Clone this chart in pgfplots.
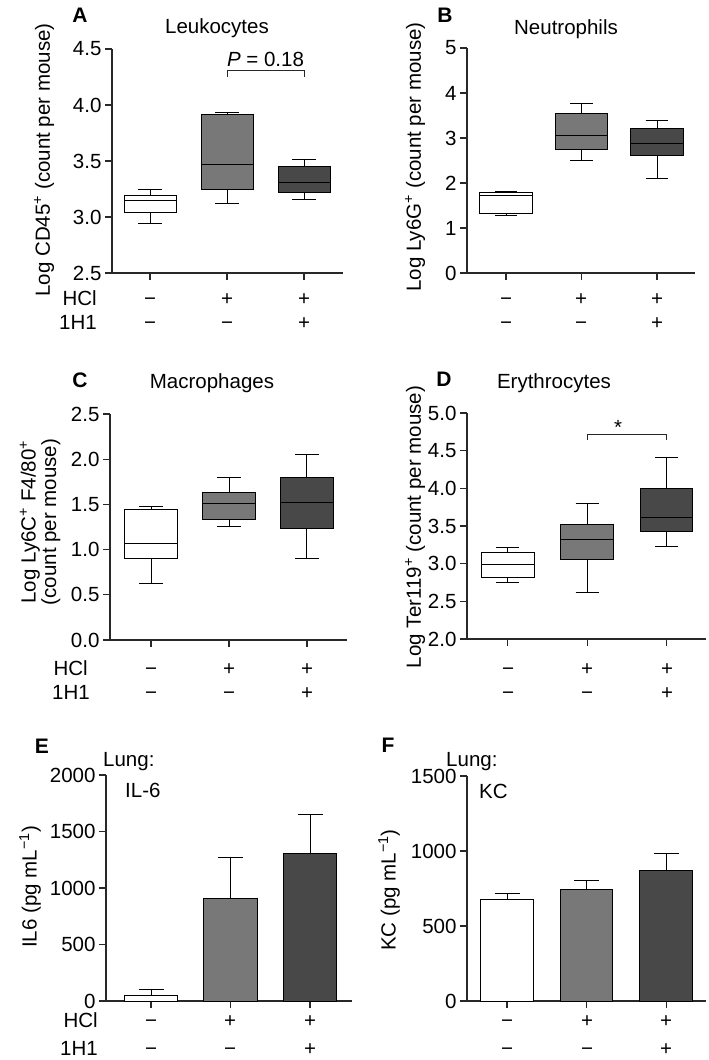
\documentclass[border=0pt]{standalone}
\usepackage{fontspec}
\setmainfont{Liberation Sans}
\usepackage{pgfplots}
\pgfplotsset{compat=1.18}
\usepgfplotslibrary{statistics}
\definecolor{midgray}{RGB}{120,120,120}
\definecolor{dkgray}{RGB}{72,72,72}
\definecolor{axgray}{RGB}{40,40,40}
\newcommand\fs{\fontsize{20.5}{24}\selectfont}
\newcommand\fsb{\fontsize{21}{24}\selectfont\bfseries}

\pgfplotsset{
 panel/.style={
  scale only axis, clip=false, anchor=south west,
  axis x line*=bottom, axis y line*=left,
  axis line style={-, line width=1.1pt, axgray},
  tick align=outside, major tick length=7pt,
  major tick style={line width=1.1pt, axgray},
  xtick={0,1,2}, xticklabels={},
  tick label style={font=\fs},
  /pgf/number format/assume math mode=true,
  boxplot/draw direction=y,
 },
 dec1/.style={yticklabel style={/pgf/number format/.cd, fixed, fixed zerofill, precision=1}},
 int/.style={yticklabel style={/pgf/number format/.cd, fixed, precision=0, 1000 sep={}}},
 bx/.style={draw=black, line width=1pt, solid, mark=none},
 eb/.style={error bars/.cd, y dir=plus, y explicit,
   error bar style={line width=1pt, black},
   error mark options={rotate=90, line width=1pt, mark size=12.5pt, black}},
}

\begin{document}
\begin{tikzpicture}
\useasboundingbox (0pt,0pt) rectangle (709pt,-1060pt);

% ---------------- A ----------------
\begin{axis}[panel, dec1, at={(112pt,-273pt)}, width=231pt, height=224pt,
  xmin=-0.494, xmax=2.506, ymin=2.5, ymax=4.5, ytick={2.5,3.0,3.5,4.0,4.5}]
\addplot[bx, fill=white, boxplot prepared={draw position=0, lower whisker=2.946, lower quartile=3.036, median=3.143, upper quartile=3.196, upper whisker=3.25, box extend=0.675, whisker extend=0.3}] coordinates {};
\addplot[bx, fill=midgray, boxplot prepared={draw position=1, lower whisker=3.119, lower quartile=3.25, median=3.473, upper quartile=3.914, upper whisker=3.93, box extend=0.675, whisker extend=0.3}] coordinates {};
\addplot[bx, fill=dkgray, boxplot prepared={draw position=2, lower whisker=3.16, lower quartile=3.223, median=3.307, upper quartile=3.452, upper whisker=3.512, box extend=0.675, whisker extend=0.3}] coordinates {};
\draw[line width=1pt, axgray] (axis cs:1,4.25) -- (axis cs:1,4.31) -- (axis cs:2,4.31) -- (axis cs:2,4.25);
\node[font=\fs, anchor=base] at (axis cs:1.5,4.34) {\textit{P} = 0.18};
\end{axis}

% ---------------- B ----------------
\begin{axis}[panel, int, at={(467pt,-273pt)}, width=228pt, height=225pt,
  xmin=-0.517, xmax=2.503, ymin=0, ymax=5, ytick={0,1,2,3,4,5}]
\addplot[bx, fill=white, boxplot prepared={draw position=0, lower whisker=1.27, lower quartile=1.33, median=1.73, upper quartile=1.78, upper whisker=1.81, box extend=0.70, whisker extend=0.3}] coordinates {};
\addplot[bx, fill=midgray, boxplot prepared={draw position=1, lower whisker=2.51, lower quartile=2.75, median=3.06, upper quartile=3.54, upper whisker=3.76, box extend=0.70, whisker extend=0.3}] coordinates {};
\addplot[bx, fill=dkgray, boxplot prepared={draw position=2, lower whisker=2.10, lower quartile=2.61, median=2.87, upper quartile=3.22, upper whisker=3.38, box extend=0.70, whisker extend=0.3}] coordinates {};
\end{axis}

% ---------------- C ----------------
\begin{axis}[panel, dec1, at={(110pt,-640pt)}, width=237pt, height=226pt,
  xmin=-0.526, xmax=2.513, ymin=0, ymax=2.5, ytick={0,0.5,1.0,1.5,2.0,2.5}]
\addplot[bx, fill=white, boxplot prepared={draw position=0, lower whisker=0.627, lower quartile=0.90, median=1.066, upper quartile=1.443, upper whisker=1.476, box extend=0.67, whisker extend=0.3}] coordinates {};
\addplot[bx, fill=midgray, boxplot prepared={draw position=1, lower whisker=1.258, lower quartile=1.328, median=1.513, upper quartile=1.627, upper whisker=1.80, box extend=0.67, whisker extend=0.3}] coordinates {};
\addplot[bx, fill=dkgray, boxplot prepared={draw position=2, lower whisker=0.90, lower quartile=1.229, median=1.524, upper quartile=1.80, upper whisker=2.055, box extend=0.67, whisker extend=0.3}] coordinates {};
\end{axis}

% ---------------- D ----------------
\begin{axis}[panel, dec1, at={(467pt,-639pt)}, width=239pt, height=226pt,
  xmin=-0.516, xmax=2.5, ymin=2, ymax=5, ytick={2.0,2.5,3.0,3.5,4.0,4.5,5.0}]
\addplot[bx, fill=white, boxplot prepared={draw position=0, lower whisker=2.75, lower quartile=2.82, median=2.993, upper quartile=3.147, upper whisker=3.209, box extend=0.66, whisker extend=0.29}] coordinates {};
\addplot[bx, fill=midgray, boxplot prepared={draw position=1, lower whisker=2.613, lower quartile=3.059, median=3.319, upper quartile=3.52, upper whisker=3.80, box extend=0.66, whisker extend=0.29}] coordinates {};
\addplot[bx, fill=dkgray, boxplot prepared={draw position=2, lower whisker=3.226, lower quartile=3.425, median=3.619, upper quartile=4.003, upper whisker=4.404, box extend=0.66, whisker extend=0.29}] coordinates {};
\draw[line width=1pt, axgray] (axis cs:1,4.64) -- (axis cs:1,4.718) -- (axis cs:2,4.718) -- (axis cs:2,4.64);
\node[font=\fs, anchor=base] at (axis cs:1.39,4.71) {*};
\end{axis}

% ---------------- E ----------------
\begin{axis}[panel, int, at={(106pt,-1001pt)}, width=246pt, height=226pt,
  xmin=-0.566, xmax=2.528, ymin=0, ymax=2000, ytick={0,500,1000,1500,2000}]
\addplot[bx, fill=white, ybar, bar width=0.67, bar shift=0pt, eb] coordinates {(0,50) +- (0,53)};
\addplot[bx, fill=midgray, ybar, bar width=0.67, bar shift=0pt, eb] coordinates {(1,910) +- (0,357)};
\addplot[bx, fill=dkgray, ybar, bar width=0.67, bar shift=0pt, eb] coordinates {(2,1309) +- (0,345)};
\end{axis}

% ---------------- F ----------------
\begin{axis}[panel, int, at={(467pt,-1001pt)}, width=239pt, height=225pt,
  xmin=-0.503, xmax=2.5, ymin=0, ymax=1500, ytick={0,500,1000,1500}]
\addplot[bx, fill=white, ybar, bar width=0.66, bar shift=0pt, eb] coordinates {(0,680) +- (0,38)};
\addplot[bx, fill=midgray, ybar, bar width=0.66, bar shift=0pt, eb] coordinates {(1,744) +- (0,58)};
\addplot[bx, fill=dkgray, ybar, bar width=0.66, bar shift=0pt, eb] coordinates {(2,869) +- (0,113)};
\end{axis}

% ---------------- text ----------------
\begin{scope}[every node/.style={font=\fs}]
% panel letters
\node[font=\fsb, anchor=base] at (80pt,-23pt) {A};
\node[font=\fsb, anchor=base] at (445pt,-23pt) {B};
\node[font=\fsb, anchor=base] at (80pt,-387pt) {C};
\node[font=\fsb, anchor=base] at (444pt,-386pt) {D};
\node[font=\fsb, anchor=base] at (42pt,-753pt) {E};
\node[font=\fsb, anchor=base] at (388pt,-752pt) {F};
% titles
\node[anchor=base] at (217pt,-33pt) {Leukocytes};
\node[anchor=base] at (566pt,-34pt) {Neutrophils};
\node[anchor=base] at (212pt,-388pt) {Macrophages};
\node[anchor=base] at (554pt,-388pt) {Erythrocytes};
\node[anchor=base west, inner sep=0pt] at (103pt,-766pt) {Lung:};
\node[anchor=base west, inner sep=0pt] at (125pt,-797pt) {IL-6};
\node[anchor=base west, inner sep=0pt] at (446pt,-766pt) {Lung:};
\node[anchor=base west, inner sep=0pt] at (479pt,-798pt) {KC};
% y labels
\node[rotate=90] at (44pt,-160pt) {Log CD45\textsuperscript{+} (count per mouse)};
\node[rotate=90] at (415pt,-157pt) {Log Ly6G\textsuperscript{+} (count per mouse)};
\node[rotate=90, align=center, font=\fontsize{20.5}{20.5}\selectfont] at (40pt,-522pt) {Log Ly6C\textsuperscript{+} F4/80\textsuperscript{+}\\(count per mouse)};
\node[rotate=90] at (415pt,-527pt) {Log Ter119\textsuperscript{+} (count per mouse)};
\node[rotate=90] at (30pt,-887pt) {IL6 (pg mL\textsuperscript{−1})};
\node[rotate=90] at (389pt,-890pt) {KC (pg mL\textsuperscript{−1})};
% row labels
\node[anchor=base east, inner sep=0pt] at (97pt,-305pt) {HCl};
\node[anchor=base east, inner sep=0pt] at (97pt,-329pt) {1H1};
\node[anchor=base east, inner sep=0pt] at (88pt,-675pt) {HCl};
\node[anchor=base east, inner sep=0pt] at (90pt,-699pt) {1H1};
\node[anchor=base east, inner sep=0pt] at (98pt,-1027pt) {HCl};
\node[anchor=base east, inner sep=0pt] at (98pt,-1055pt) {1H1};
% signs A
\node[anchor=base] at (150pt,-305pt) {−}; \node[anchor=base] at (227pt,-305pt) {+}; \node[anchor=base] at (304pt,-305pt) {+};
\node[anchor=base] at (150pt,-329pt) {−}; \node[anchor=base] at (227pt,-329pt) {−}; \node[anchor=base] at (304pt,-329pt) {+};
% signs B
\node[anchor=base] at (506pt,-305pt) {−}; \node[anchor=base] at (581pt,-305pt) {+}; \node[anchor=base] at (657pt,-305pt) {+};
\node[anchor=base] at (506pt,-329pt) {−}; \node[anchor=base] at (581pt,-329pt) {−}; \node[anchor=base] at (657pt,-329pt) {+};
% signs C
\node[anchor=base] at (151pt,-675pt) {−}; \node[anchor=base] at (229pt,-675pt) {+}; \node[anchor=base] at (307pt,-675pt) {+};
\node[anchor=base] at (151pt,-699pt) {−}; \node[anchor=base] at (229pt,-699pt) {−}; \node[anchor=base] at (307pt,-699pt) {+};
% signs D
\node[anchor=base] at (508pt,-675pt) {−}; \node[anchor=base] at (587pt,-675pt) {+}; \node[anchor=base] at (667pt,-675pt) {+};
\node[anchor=base] at (508pt,-699pt) {−}; \node[anchor=base] at (587pt,-699pt) {−}; \node[anchor=base] at (667pt,-699pt) {+};
% signs E
\node[anchor=base] at (151pt,-1027pt) {−}; \node[anchor=base] at (230pt,-1027pt) {+}; \node[anchor=base] at (310pt,-1027pt) {+};
\node[anchor=base] at (151pt,-1055pt) {−}; \node[anchor=base] at (230pt,-1055pt) {−}; \node[anchor=base] at (310pt,-1055pt) {+};
% signs F
\node[anchor=base] at (507pt,-1027pt) {−}; \node[anchor=base] at (587pt,-1027pt) {+}; \node[anchor=base] at (666pt,-1027pt) {+};
\node[anchor=base] at (507pt,-1055pt) {−}; \node[anchor=base] at (587pt,-1055pt) {−}; \node[anchor=base] at (666pt,-1055pt) {+};
\end{scope}
\end{tikzpicture}
\end{document}
